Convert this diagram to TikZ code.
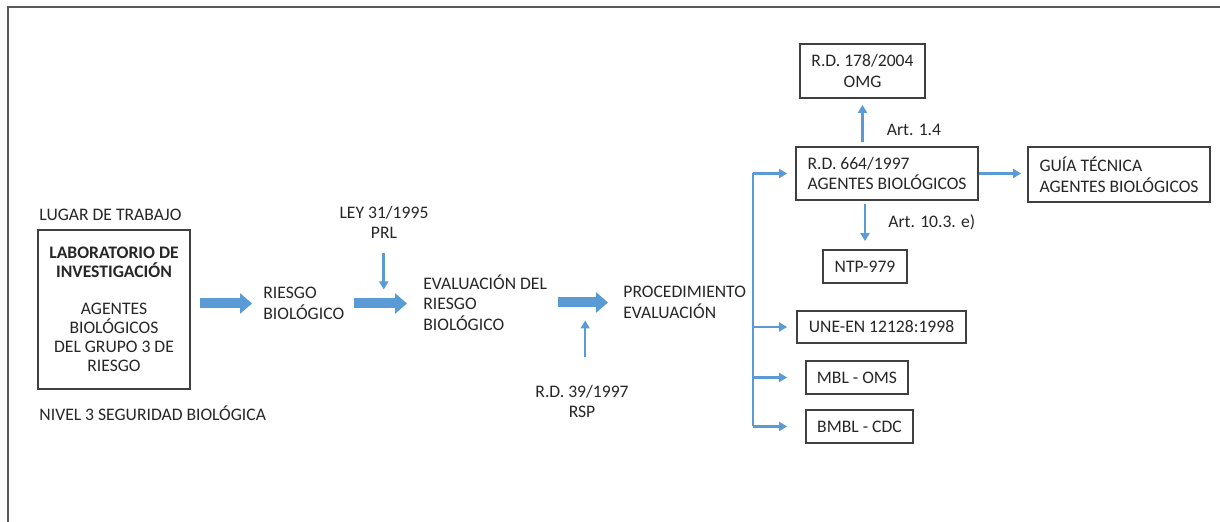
\documentclass[tikz,border=0pt]{standalone}
\usepackage{fontspec}
\setmainfont{Carlito}
\usetikzlibrary{arrows.meta,positioning}
\definecolor{flowblue}{HTML}{5B9BD5}
\definecolor{boxgray}{HTML}{404040}
\definecolor{textgray}{HTML}{262626}
\definecolor{framegray}{HTML}{595959}

\begin{document}
\begin{tikzpicture}[
    x=0.5pt, y=-0.5pt,
    every node/.style={font=\fontsize{8.8}{10.3}\selectfont, inner sep=0pt, text=textgray},
    docbox/.style={draw=boxgray, line width=0.9pt, align=center},
    note/.style={align=left},
    bigarrow/.style={flowblue, line width=5pt, -{Triangle[length=6pt, width=10pt]}},
    thinarrow/.style={flowblue, line width=1.3pt, -{Triangle[length=4pt, width=4.5pt]}}
]
\useasboundingbox (0,0) rectangle (1220,522);

% Frame
\draw[framegray, line width=1pt] (8,522) -- (8,7) -- (1220,7);

% Workplace
\node[docbox, minimum width=76pt, minimum height=79.5pt, font=\fontsize{8.8}{9.5}\selectfont] (lab) at (114,309.5)
    {\textbf{LABORATORIO DE}\\\textbf{INVESTIGACIÓN}\\[9pt]AGENTES\\BIOLÓGICOS\\DEL GRUPO 3 DE\\RIESGO};
\node[above right=4pt and 1pt of lab.north west] (lugar) {LUGAR DE TRABAJO};
\node[below right=8pt and 1pt of lab.south west] (nivel) {NIVEL 3 SEGURIDAD BIOLÓGICA};

% Main chain
\node[note, anchor=west] (riesgo) at (263,303.5) {RIESGO\\BIOLÓGICO};
\node[align=center] (ley) at (384,222.5) {LEY 31/1995\\PRL};
\node[note, anchor=west] (evaluacion) at (423,302.5) {EVALUACIÓN DEL\\RIESGO\\BIOLÓGICO};
\node[align=center] (rsp) at (582,401.5) {R.D. 39/1997\\RSP};
\node[note, anchor=west] (procedimiento) at (623,302.5) {PROCEDIMIENTO\\EVALUACIÓN};

\draw[bigarrow, shorten <=4.5pt, shorten >=5.5pt] (lab.east |- riesgo.west) -- (riesgo.west);
\draw[bigarrow, shorten <=4.5pt, shorten >=8pt] (riesgo.east) -- coordinate[midway] (a2) (riesgo.east -| evaluacion.west);
\draw[bigarrow, shorten <=5.5pt, shorten >=7.5pt] (evaluacion.east) -- coordinate[midway] (a3) (evaluacion.east -| procedimiento.west);

\draw[thinarrow, shorten <=6.75pt, shorten >=7pt] (ley.south -| a2) -- (a2);
\draw[thinarrow, shorten <=14pt, shorten >=9pt] (rsp.north -| a3) -- (a3);

% Regulations
\node[docbox, align=left, minimum width=91pt, minimum height=26.5pt] (rd664) at (887,173.5) {R.D. 664/1997\\AGENTES BIOLÓGICOS};
\node[docbox, minimum width=62.5pt, minimum height=27pt] (rd178) at (862.5,71) {R.D. 178/2004\\OMG};
\node[docbox, minimum width=42pt, minimum height=16.5pt] (ntp) at (865,266.5) {NTP-979};
\node[docbox, align=left, minimum width=91pt, minimum height=27.5pt] (guia) at (1119,174.5) {GUÍA TÉCNICA\\AGENTES BIOLÓGICOS};
\node[docbox, minimum width=84.5pt, minimum height=16pt] (une) at (881.5,327) {UNE-EN 12128:1998};
\node[docbox, minimum width=51pt, minimum height=16.5pt] (mbl) at (857,377.5) {MBL - OMS};
\node[docbox, minimum width=53.5pt, minimum height=16.5pt] (bmbl) at (859.5,426.5) {BMBL - CDC};

\draw[thinarrow, shorten <=2pt, shorten >=3pt] (rd178.south |- rd664.north) -- node[pos=0.35, right=11.5pt] (art14) {Art. 1.4} (rd178.south);
\draw[thinarrow, shorten <=1.5pt, shorten >=4pt] (ntp.north |- rd664.south) -- node[pos=0.44, right=11pt] (art103) {Art. 10.3. e)} (ntp.north);
\draw[thinarrow, shorten >=3pt] (rd664.east) -- (rd664.east -| guia.west);

% Branches
\coordinate (bustop) at (753,173.5);
\draw[flowblue, line width=1.3pt] (bustop) -- (bustop |- bmbl.west);
\foreach \target/\gap in {rd664/4pt, une/4.5pt, mbl/9pt, bmbl/9pt}
    \draw[thinarrow, shorten >=\gap] (bustop |- \target.west) -- (\target.west);

\end{tikzpicture}
\end{document}
